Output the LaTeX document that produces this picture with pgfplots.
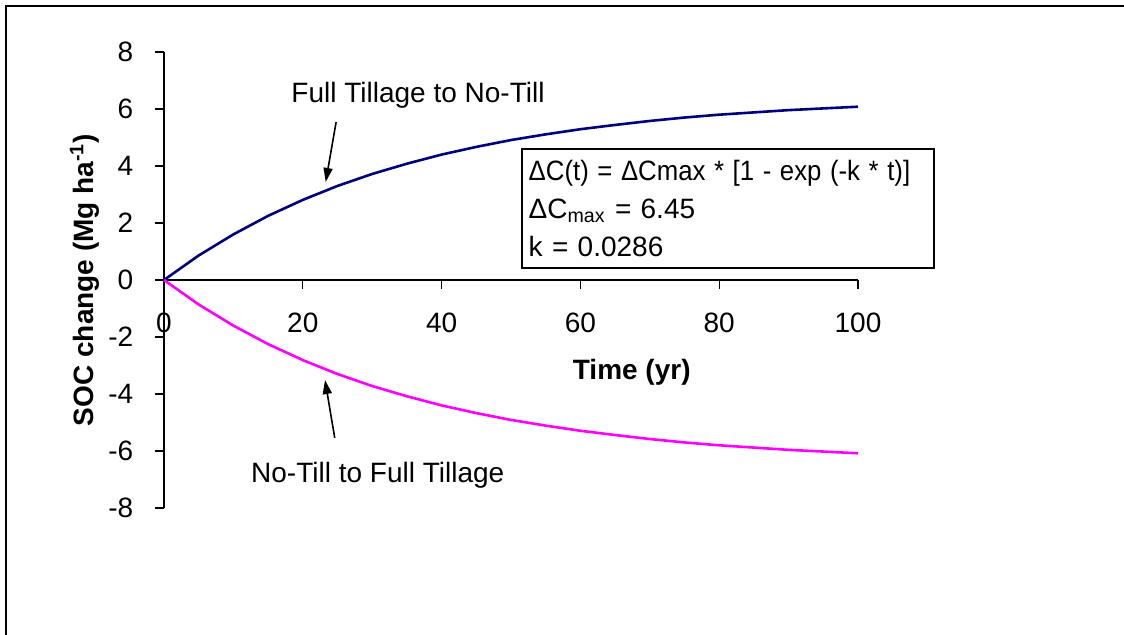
\documentclass[border=0pt]{standalone}
\usepackage{fontspec}
\setmainfont{Liberation Sans}
\usepackage{pgfplots}
\pgfplotsset{compat=1.18}
\usetikzlibrary{arrows.meta}
\definecolor{navyline}{RGB}{0,0,128}
\definecolor{magline}{RGB}{255,0,255}
\pgfplotstableread{
t up down
0 0 0
5 0.86 -0.86
10 1.60 -1.60
15 2.25 -2.25
20 2.81 -2.81
25 3.30 -3.30
30 3.72 -3.72
35 4.08 -4.08
40 4.40 -4.40
45 4.67 -4.67
50 4.91 -4.91
55 5.11 -5.11
60 5.29 -5.29
65 5.44 -5.44
70 5.58 -5.58
75 5.70 -5.70
80 5.80 -5.80
85 5.88 -5.88
90 5.96 -5.96
95 6.02 -6.02
100 6.08 -6.08
}\soctable
\begin{document}
\fontsize{14}{16.5}\selectfont
\begin{tikzpicture}
\useasboundingbox (-82pt,-63.5pt) rectangle (480pt,254pt);
\draw[line width=1pt] (-79pt,-70pt) -- (-79pt,251pt) -- (490pt,251pt);
\begin{axis}[
 at={(0pt,0pt)}, anchor=south west,
 scale only axis, width=347pt, height=228pt,
 xmin=0, xmax=100, ymin=-8, ymax=8,
 axis x line=middle, axis y line=left,
 axis line style={-, line width=0.6pt},
 hide obscured x ticks=false, hide obscured y ticks=false,
 xtick={0,20,...,100}, ytick={-8,-6,...,8},
 tick align=outside, major tick length=4.5pt,
 tick style={black, line width=0.6pt},
 /pgf/number format/assume math mode=true,
 ticklabel style={font=\fontsize{14}{16.5}\selectfont},
 xticklabel style={yshift=-7pt},
 yticklabel style={xshift=-6pt},
 xlabel={\textbf{Time (yr)}},
 ylabel={\textbf{SOC change (Mg ha\textsuperscript{-1})}},
 every axis x label/.style={at={(axis description cs:0.674,0.298)}, anchor=center},
 every axis y label/.style={at={(axis description cs:-0.114,0.5)}, rotate=90, anchor=center},
 clip=false,
]
\addplot[navyline, line width=1.3pt] table[x=t, y=up] {\soctable};
\addplot[magline, line width=1.3pt] table[x=t, y=down] {\soctable};
\node at (axis cs:36.6,6.49) {Full Tillage to No-Till};
\draw[-{Triangle[length=7pt,width=4.5pt]}, line width=0.8pt] (axis cs:24.8,5.54) -- (axis cs:23.3,3.44);
\draw[-{Triangle[length=7pt,width=4.5pt]}, line width=0.8pt] (axis cs:24.6,-5.54) -- (axis cs:23.2,-3.51);
\node at (axis cs:30.8,-6.84) {No-Till to Full Tillage};
\node[draw, fill=white, line width=1pt, anchor=north west, inner xsep=3.5pt, inner ysep=5.5pt, text width=199pt, align=left, font=\fontsize{14}{19}\selectfont] at (axis cs:51.4,4.63) {\scalebox{0.92}[1]{ΔC(t) = ΔCmax * [1 - exp (-k * t)]}\\ΔC\textsubscript{max} = 6.45\\k = 0.0286};
\end{axis}
\end{tikzpicture}
\end{document}
